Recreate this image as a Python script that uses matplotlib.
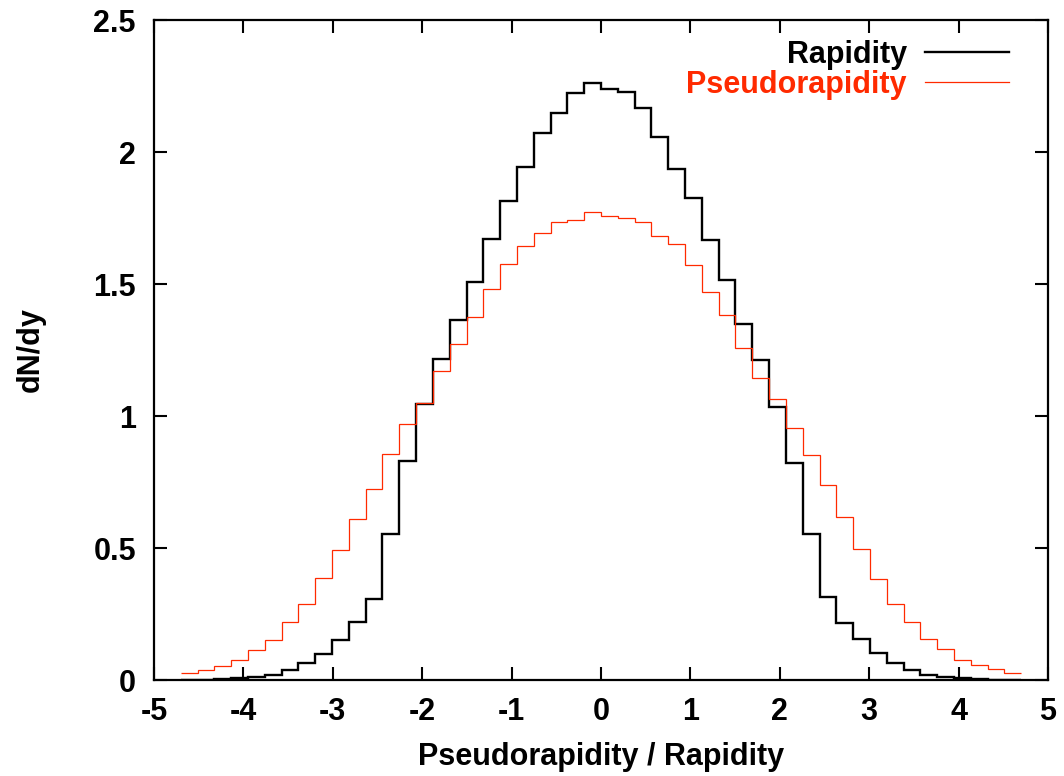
import numpy as np
import matplotlib
matplotlib.use("Agg")
import matplotlib.pyplot as plt

plt.rcParams['font.family'] = ['Liberation Sans', 'DejaVu Sans']
plt.rcParams['font.weight'] = 'bold'

# 50 bins from -4.7 to 4.7
bin_lo, bin_hi, n_bins = -4.7, 4.7, 50

rapidity = [0.000, 0.001, 0.003, 0.006, 0.010, 0.018, 0.038, 0.063, 0.097, 0.152,
            0.221, 0.307, 0.553, 0.830, 1.047, 1.216, 1.364, 1.509, 1.670, 1.814,
            1.943, 2.073, 2.148, 2.223, 2.263, 2.240, 2.226, 2.165, 2.058, 1.934,
            1.824, 1.665, 1.516, 1.347, 1.212, 1.034, 0.821, 0.552, 0.316, 0.217,
            0.157, 0.101, 0.063, 0.038, 0.019, 0.011, 0.006, 0.003, 0.001, 0.000]

pseudorapidity = [0.025, 0.038, 0.054, 0.076, 0.114, 0.153, 0.218, 0.288, 0.385, 0.492,
                  0.611, 0.722, 0.855, 0.969, 1.050, 1.169, 1.274, 1.374, 1.480, 1.576,
                  1.643, 1.692, 1.734, 1.741, 1.772, 1.756, 1.750, 1.734, 1.683, 1.653,
                  1.572, 1.469, 1.383, 1.259, 1.143, 1.064, 0.953, 0.852, 0.737, 0.619,
                  0.495, 0.381, 0.288, 0.218, 0.154, 0.116, 0.076, 0.056, 0.040, 0.025]

x_ticks = [-5, -4, -3, -2, -1, 0, 1, 2, 3, 4, 5]
y_ticks = [0, 0.5, 1, 1.5, 2, 2.5]
y_tick_labels = ['0', '0.5', '1', '1.5', '2', '2.5']

red = '#ff2a00'
fs = 22

fig = plt.figure(figsize=(10.64, 7.76), dpi=100)
ax = fig.add_axes([0.1447, 0.1237, 0.8403, 0.8505])

edges = np.linspace(bin_lo, bin_hi, n_bins + 1)
ax.stairs(rapidity, edges, baseline=None, color='black', linewidth=1.7, label='Rapidity')
ax.stairs(pseudorapidity, edges, baseline=None, color=red, linewidth=0.9, label='Pseudorapidity')

ax.set_xlim(-5, 5)
ax.set_ylim(0, 2.5)
ax.set_xticks(x_ticks)
ax.set_xticklabels([str(t) for t in x_ticks])
ax.set_yticks(y_ticks)
ax.set_yticklabels(y_tick_labels)

ax.tick_params(direction='in', length=9.5, width=1.5, labelsize=fs,
               top=True, right=True)
ax.tick_params(axis='x', pad=12)
ax.tick_params(axis='y', pad=13)
for s in ax.spines.values():
    s.set_linewidth(1.6)

ax.set_xlabel('Pseudorapidity / Rapidity', fontsize=fs, fontweight='bold', labelpad=11)
ax.set_ylabel('dN/dy', fontsize=fs, fontweight='bold', labelpad=34)

leg = ax.legend(loc='upper right', bbox_to_anchor=(0.977, 0.998), frameon=False,
                markerfirst=False, fontsize=fs, handlelength=2.75, handletextpad=0.6,
                labelspacing=0.0, borderaxespad=0.2)
leg.get_texts()[1].set_color(red)

fig.savefig('out.png', dpi=100)
